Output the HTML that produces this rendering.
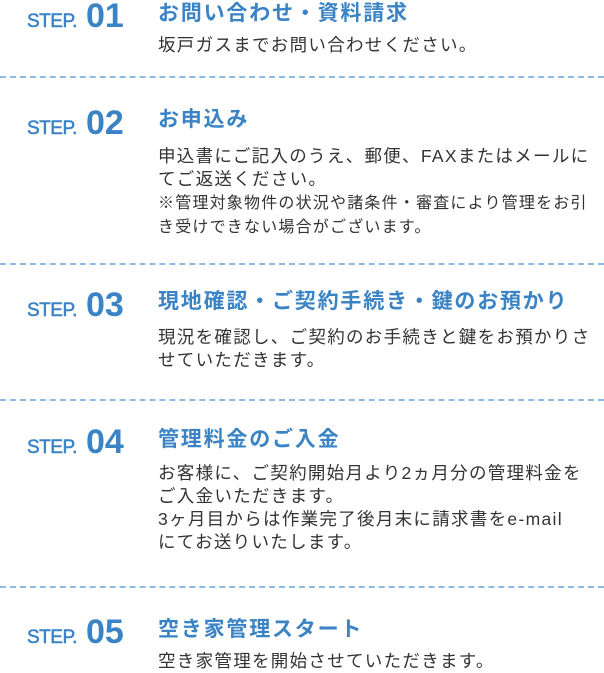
<!DOCTYPE html>
<html><head><meta charset="utf-8"><style>
body{margin:0;width:604px;height:672px;background:#fff;position:relative;overflow:hidden;font-family:"Liberation Sans","Noto Sans CJK JP",sans-serif}
.s{position:absolute;left:27px;color:#3a83c5;font-weight:bold;white-space:nowrap}
.s small{font-size:19px;font-weight:normal;letter-spacing:-0.5px;-webkit-text-stroke:0.5px #3a83c5}
.s b{font-size:34px;margin-left:9px}
.t{position:absolute;left:158px;color:#3a83c5;font-weight:bold;font-size:21px;letter-spacing:1.8px;white-space:nowrap;line-height:24px}
.b{position:absolute;left:158px;color:#333;font-size:17.5px;letter-spacing:1.3px;line-height:23px;white-space:nowrap}
.n{font-size:16px;letter-spacing:1.2px}
.d{position:absolute;left:0;width:604px;height:0;border-top:2px dashed #8dbbe3}
</style></head><body>
<div class="s" style="top:-3px"><small>STEP.</small><b>01</b></div>
<div class="t" style="top:2px">お問い合わせ・資料請求</div>
<div class="b" style="top:34px">坂戸ガスまでお問い合わせください。</div>
<div class="d" style="top:76px"></div>

<div class="s" style="top:104px"><small>STEP.</small><b>02</b></div>
<div class="t" style="top:108px">お申込み</div>
<div class="b" style="top:145px">申込書にご記入のうえ、郵便、FAXまたはメールに<br>てご返送ください。<br><span class="n">※管理対象物件の状況や諸条件・審査により管理をお引<br>き受けできない場合がございます。</span></div>
<div class="d" style="top:263px"></div>

<div class="s" style="top:286px"><small>STEP.</small><b>03</b></div>
<div class="t" style="top:290px">現地確認・ご契約手続き・鍵のお預かり</div>
<div class="b" style="top:326px">現況を確認し、ご契約のお手続きと鍵をお預かりさ<br>せていただきます。</div>
<div class="d" style="top:399px"></div>

<div class="s" style="top:423px"><small>STEP.</small><b>04</b></div>
<div class="t" style="top:428px">管理料金のご入金</div>
<div class="b" style="top:462px">お客様に、ご契約開始月より2ヵ月分の管理料金を<br>ご入金いただきます。<br>3ヶ月目からは作業完了後月末に請求書をe-mail<br>にてお送りいたします。</div>
<div class="d" style="top:586px"></div>

<div class="s" style="top:613px"><small>STEP.</small><b>05</b></div>
<div class="t" style="top:618px">空き家管理スタート</div>
<div class="b" style="top:650px">空き家管理を開始させていただきます。</div>
</body></html>
